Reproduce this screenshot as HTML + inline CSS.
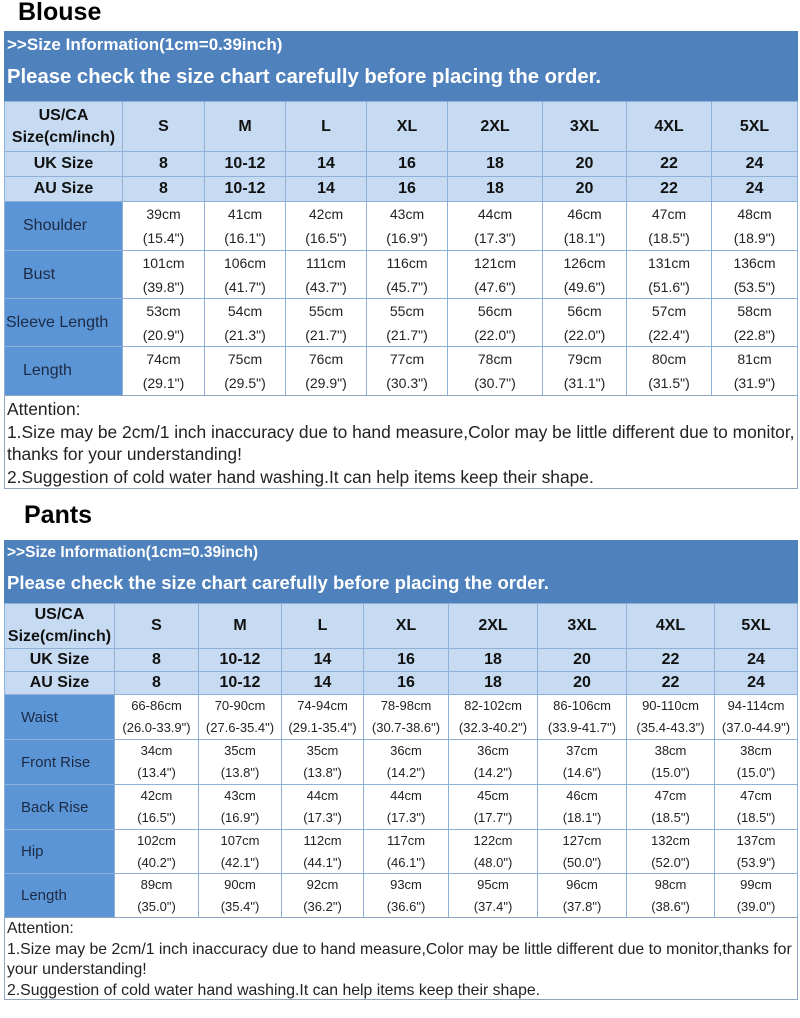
<!DOCTYPE html>
<html><head><meta charset="utf-8">
<style>
body{margin:0;width:800px;height:1018px;background:#fff;position:relative;overflow:hidden;font-family:"Liberation Sans",Arial,sans-serif;}
.a{position:absolute;box-sizing:border-box;}
.title{font-weight:bold;font-size:25px;color:#000;}
.hdr{background:#4f81bd;color:#fff;font-weight:bold;white-space:nowrap;}
.c{display:flex;align-items:center;justify-content:center;text-align:center;border:1px solid #8fb0d8;}
.top{background:#c6dbf1;font-weight:bold;color:#111;font-size:16px;}
.lab{background:#5b95d6;color:#1d2a44;font-size:16px;justify-content:flex-start;padding-left:18px;white-space:nowrap;}
.val{background:#fff;color:#222;font-size:14px;line-height:24px;flex-direction:column;}
.att{border:1px solid #8fa6c0;color:#222;padding:2px 0 0 2px;}
</style></head><body>
<div class="a title" style="left:18px;top:-2px;">Blouse</div>
<div class="a title" style="left:24px;top:501px;">Pants</div>
<div id="root"></div>
<script>
const sizes=["S","M","L","XL","2XL","3XL","4XL","5XL"];
const ukSizes=["8","10-12","14","16","18","20","22","24"];
const auSizes=["8","10-12","14","16","18","20","22","24"];
const blouseRows=["Shoulder","Bust","Sleeve Length","Length"];
const blouseCm=[["39cm","41cm","42cm","43cm","44cm","46cm","47cm","48cm"],["101cm","106cm","111cm","116cm","121cm","126cm","131cm","136cm"],["53cm","54cm","55cm","55cm","56cm","56cm","57cm","58cm"],["74cm","75cm","76cm","77cm","78cm","79cm","80cm","81cm"]];
const blouseIn=[["15.4","16.1","16.5","16.9","17.3","18.1","18.5","18.9"],["39.8","41.7","43.7","45.7","47.6","49.6","51.6","53.5"],["20.9","21.3","21.7","21.7","22.0","22.0","22.4","22.8"],["29.1","29.5","29.9","30.3","30.7","31.1","31.5","31.9"]];
const pantsRows=["Waist","Front Rise","Back Rise","Hip","Length"];
const pantsCm=[["66-86cm","70-90cm","74-94cm","78-98cm","82-102cm","86-106cm","90-110cm","94-114cm"],["34cm","35cm","35cm","36cm","36cm","37cm","38cm","38cm"],["42cm","43cm","44cm","44cm","45cm","46cm","47cm","47cm"],["102cm","107cm","112cm","117cm","122cm","127cm","132cm","137cm"],["89cm","90cm","92cm","93cm","95cm","96cm","98cm","99cm"]];
const pantsIn=[["26.0-33.9","27.6-35.4","29.1-35.4","30.7-38.6","32.3-40.2","33.9-41.7","35.4-43.3","37.0-44.9"],["13.4","13.8","13.8","14.2","14.2","14.6","15.0","15.0"],["16.5","16.9","17.3","17.3","17.7","18.1","18.5","18.5"],["40.2","42.1","44.1","46.1","48.0","50.0","52.0","53.9"],["35.0","35.4","36.2","36.6","37.4","37.8","38.6","39.0"]];

const root=document.getElementById('root');
function box(cls,x,y,w,h,html,name,style){
  const d=document.createElement('div');
  d.className='a '+cls;
  d.style.left=x+'px';d.style.top=y+'px';d.style.width=w+'px';d.style.height=h+'px';
  if(style)d.style.cssText+=style;
  d.innerHTML=html;
  
  
  root.appendChild(d);return d;
}
function build(cfg,p){
  const L=4,R=798,W=R-L;
  box('hdr',L,cfg.y0,W,cfg.h1,'>>Size Information(1cm=0.39inch)',p+'-size-info-header','font-size:'+cfg.f1+'px;padding:4px 0 0 3px;');
  box('hdr',L,cfg.y0+cfg.h1,W,cfg.h2,'Please check the size chart carefully before placing the order.',p+'-notice-header','font-size:'+cfg.f2+'px;padding:'+cfg.pad2+'px 0 0 3px;');
  const xs=cfg.cols;
  let y=cfg.y0+cfg.h1+cfg.h2;
  const topRows=[["US/CA<br>Size(cm/inch)",sizes,cfg.hUS,'us-ca'],["UK Size",ukSizes,cfg.hUK,'uk'],["AU Size",auSizes,cfg.hUK,'au']];
  topRows.forEach(r=>{
    box('c top',xs[0],y,xs[1]-xs[0]+1,r[2]+1,r[0],p+'-'+r[3]+'-label','line-height:22px;');
    r[1].forEach((v,i)=>box('c top',xs[i+1],y,xs[i+2]-xs[i+1]+1,r[2]+1,v,p+'-'+r[3]+'-'+sizes[i].toLowerCase()));
    y+=r[2];
  });
  cfg.rows.forEach((name,ri)=>{
    const h=cfg.hRow[ri];
    let ls=cfg.labStyle||'';
    if(name==='Sleeve Length')ls+='padding-left:1px;';
    box('c lab',xs[0],y,xs[1]-xs[0]+1,h+1,name,p+'-'+name.toLowerCase().replace(/ /g,'-')+'-label',ls);
    sizes.forEach((s,i)=>box('c val',xs[i+1],y,xs[i+2]-xs[i+1]+1,h+1,'<span>'+cfg.cm[ri][i]+'</span><span>('+cfg.inch[ri][i]+'")</span>',p+'-'+name.toLowerCase().replace(/ /g,'-')+'-'+s.toLowerCase(),cfg.valStyle||''));
    y+=h;
  });
  box('att',L,y,W,cfg.attH,cfg.att,p+'-attention-note',cfg.attStyle);
}
build({y0:31,h1:27,h2:43,f1:17,f2:20.3,pad2:8,cols:[4,122,204,285,366,447,542,626,711,797],hUS:50,hUK:25,hRow:[49,48,48,49],rows:blouseRows,cm:blouseCm,inch:blouseIn,attH:94,attStyle:'font-size:17.4px;line-height:22.5px;',
  att:'Attention:<br>1.Size may be 2cm/1 inch inaccuracy due to hand measure,Color may be little different due to monitor, thanks for your understanding!<br>2.Suggestion of cold water hand washing.It can help items keep their shape.'},'blouse');
build({y0:540,h1:25,h2:38,f1:15.5,f2:18.5,pad2:7,cols:[4,114,198,281,363,448,537,626,714,797],hUS:45,hUK:23,hRow:[45,45,45,44,44],rows:pantsRows,cm:pantsCm,inch:pantsIn,attH:83,attStyle:'font-size:15.8px;line-height:20.5px;padding-top:1px;',labStyle:'padding-left:16px;font-size:15px;',valStyle:'font-size:13px;line-height:22px;',
  att:'Attention:<br>1.Size may be 2cm/1 inch inaccuracy due to hand measure,Color may be little different due to monitor,thanks for your understanding!<br>2.Suggestion of cold water hand washing.It can help items keep their shape.'},'pants');
</script>
</body></html>
